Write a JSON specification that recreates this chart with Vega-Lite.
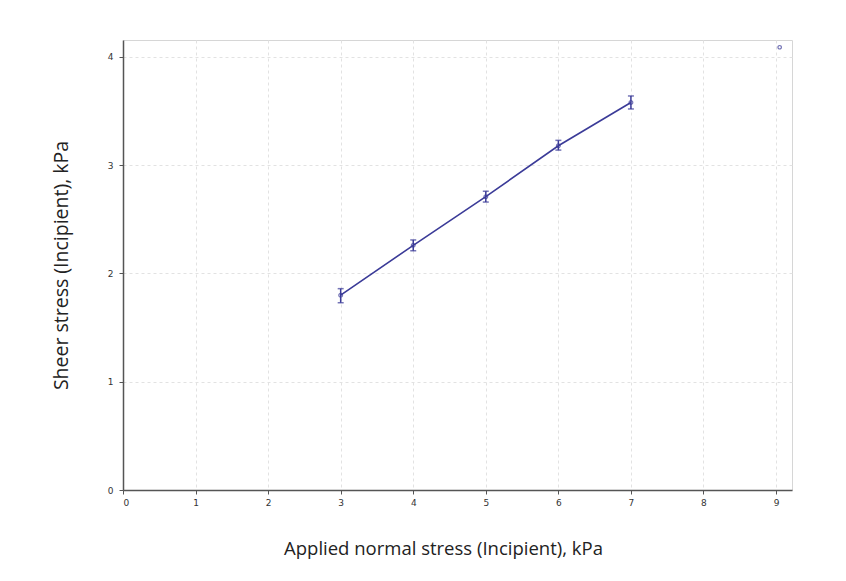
{
  "$schema": "https://vega.github.io/schema/vega-lite/v6.json",
  "autosize": "none",
  "padding": {"left": 123, "top": 40, "right": 54, "bottom": 91},
  "width": 669,
  "height": 450,
  "background": "white",
  "config": {
    "view": {"stroke": "#d6d6d6", "strokeWidth": 1},
    "axis": {
      "labelFont": "DejaVu Sans",
      "labelFontSize": 9,
      "labelColor": "#333333",
      "titleFont": "Open Sans",
      "titleFontWeight": "normal",
      "titleColor": "#222222",
      "grid": true,
      "gridColor": "#e2e2e2",
      "gridDash": [3, 3],
      "domainColor": "#555555",
      "domainWidth": 1.5,
      "tickColor": "#555555",
      "tickSize": 4
    }
  },
  "datasets": {
    "pts": [
      {"x": 3, "y": 1.80, "lo": 1.73, "hi": 1.86},
      {"x": 4, "y": 2.26, "lo": 2.21, "hi": 2.31},
      {"x": 5, "y": 2.71, "lo": 2.66, "hi": 2.76},
      {"x": 6, "y": 3.18, "lo": 3.14, "hi": 3.23},
      {"x": 7, "y": 3.58, "lo": 3.52, "hi": 3.64}
    ],
    "extra": [{"x": 9.05, "y": 4.09}]
  },
  "encoding": {
    "x": {
      "field": "x", "type": "quantitative",
      "scale": {"domain": [0, 9.22], "nice": false, "zero": false},
      "axis": {"values": [0,1,2,3,4,5,6,7,8,9], "format": "d", "title": "Applied normal stress (Incipient), kPa", "titleFontSize": 18.5, "titlePadding": 32, "titleX": 320, "labelPadding": 4}
    },
    "y": {
      "field": "y", "type": "quantitative",
      "scale": {"domain": [0, 4.157], "nice": false, "zero": false},
      "axis": {"values": [0,1,2,3,4], "format": "d", "title": "Sheer stress (Incipient), kPa", "titleFontSize": 19.5, "titlePadding": 36, "labelPadding": 6}
    }
  },
  "layer": [
    {
      "data": {"name": "pts"},
      "mark": {"type": "line", "color": "#3b3b98", "strokeWidth": 1.6},
      "encoding": {}
    },
    {
      "data": {"name": "pts"},
      "mark": {"type": "rule", "color": "#3b3b98", "strokeWidth": 1.5},
      "encoding": {"y": {"field": "lo", "type": "quantitative"}, "y2": {"field": "hi"}}
    },
    {
      "data": {"name": "pts"},
      "mark": {"type": "tick", "orient": "horizontal", "color": "#3b3b98", "size": 6, "thickness": 1.5},
      "encoding": {"y": {"field": "lo", "type": "quantitative"}}
    },
    {
      "data": {"name": "pts"},
      "mark": {"type": "tick", "orient": "horizontal", "color": "#3b3b98", "size": 6, "thickness": 1.5},
      "encoding": {"y": {"field": "hi", "type": "quantitative"}}
    },
    {
      "data": {"name": "pts"},
      "mark": {"type": "point", "shape": "circle", "color": "#3b3b98", "size": 14, "strokeWidth": 1.2, "filled": false},
      "encoding": {}
    },
    {
      "data": {"name": "extra"},
      "mark": {"type": "point", "shape": "circle", "color": "#3b3b98", "size": 12, "strokeWidth": 1.2, "filled": false},
      "encoding": {}
    }
  ]
}
